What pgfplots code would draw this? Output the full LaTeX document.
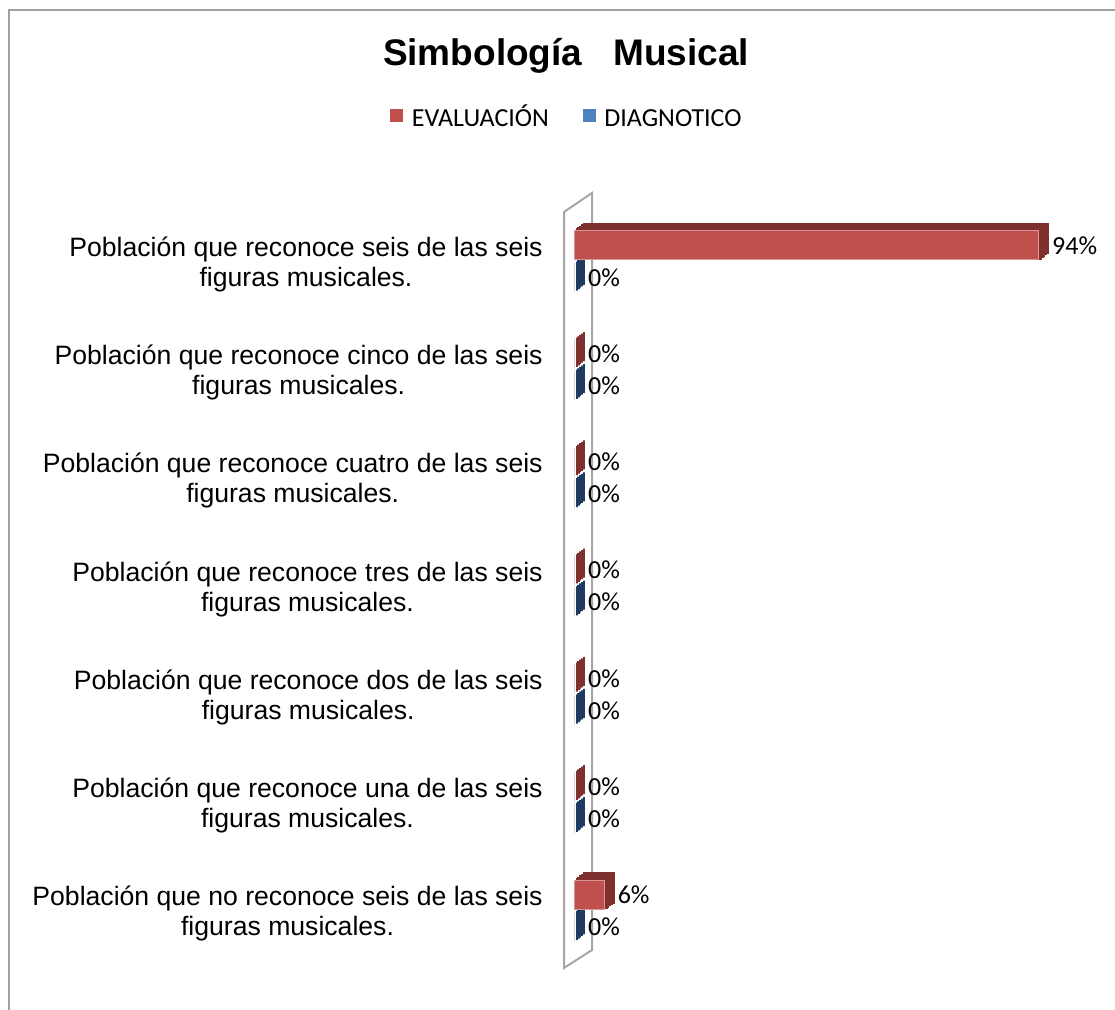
\documentclass[border=0pt]{standalone}
\usepackage{pgfplots}
\pgfplotsset{compat=1.18}
\usepackage{fontspec}
\setmainfont{Liberation Sans}
\newfontfamily\calibri{Carlito}
\definecolor{evred}{HTML}{C0504D}
\definecolor{evdark}{HTML}{7E302E}
\definecolor{dgblue}{HTML}{4F81BD}
\definecolor{dgdark}{HTML}{1F3A60}
\definecolor{framegray}{HTML}{A0A0A0}
% fake 3D depth: shifted copies of the bar behind its front face
\tikzset{
  depth/.style={
    preaction={fill=#1,draw=#1,line width=1.1pt,transform canvas={shift={(4.5pt,3.5pt)}}},
    preaction={fill=#1,draw=#1,line width=1.1pt,transform canvas={shift={(3.6pt,2.8pt)}}},
    preaction={fill=#1,draw=#1,line width=1.1pt,transform canvas={shift={(2.7pt,2.1pt)}}},
    preaction={fill=#1,draw=#1,line width=1.1pt,transform canvas={shift={(1.8pt,1.4pt)}}},
    preaction={fill=#1,draw=#1,line width=1.1pt,transform canvas={shift={(0.9pt,0.7pt)}}},
  }
}
\makeatletter
\tikzset{no preactions/.code={\let\tikz@preactions\pgfutil@empty}}
\makeatother
\begin{document}
\begin{tikzpicture}
\useasboundingbox (0pt,0pt) rectangle (557.5pt,505pt);
\draw[framegray, line width=1.2pt] (4.5pt,-2pt) -- (4.5pt,500pt) -- (560pt,500pt);
% back wall
\draw[gray!70, line width=1pt, fill=white] (282pt,399pt) -- (296pt,408.5pt) -- (296pt,30pt) -- (282pt,21pt) -- cycle;
\node[font=\bfseries\fontsize{18.5}{22}\selectfont] at (283pt,477pt) {Simbología\ \ \ Musical};
\begin{axis}[
  at={(287.5pt,22.45pt)}, anchor=south west,
  scale only axis, width=246.8pt, height=378.9pt,
  xbar, xmin=0, xmax=100, ymin=-0.5, ymax=6.5,
  bar width=14.5pt,
  axis line style={draw=none},
  xtick=\empty,
  ytick={0,...,6},
  yticklabels={
    {Población que no reconoce seis de las seis\\figuras musicales.},
    {Población que reconoce una de las seis\\figuras musicales.},
    {Población que reconoce dos de las seis\\figuras musicales.},
    {Población que reconoce tres de las seis\\figuras musicales.},
    {Población que reconoce cuatro de las seis\\figuras musicales.},
    {Población que reconoce cinco de las seis\\figuras musicales.},
    {Población que reconoce seis de las seis\\figuras musicales.}},
  major tick length=0pt,
  yticklabel style={align=center, inner sep=0pt, xshift=-16pt, yshift=-1.5pt,
    font=\fontsize{13.3}{15}\selectfont},
  /pgf/number format/assume math mode=true,
  nodes near coords={\pgfmathprintnumber{\pgfplotspointmeta}\%},
  every node near coord/.append style={font=\calibri\fontsize{13}{15}\selectfont,
    color=black, xshift=3pt},
  legend style={at={(-0.0142,1.119)}, anchor=center, draw=none,
    legend columns=-1, font=\calibri\fontsize{13}{15}\selectfont,
    /tikz/every even column/.append style={column sep=15pt}},
  reverse legend,
  clip=false,
]
\addplot[fill=dgblue, draw=dgblue!60!white, line width=0.5pt, depth=dgdark, bar shift=-8pt,
  legend image code/.code={\fill[no preactions, dgblue] (0pt,-2pt) rectangle (6pt,4pt);
    \path[no preactions, draw=none, fill=none] (6pt,1pt) -- (8.5pt,1pt);}]
  coordinates {(0,6) (0,5) (0,4) (0,3) (0,2) (0,1) (0,0)};
\addlegendentry{\vphantom{Ó}DIAGNOTICO}
\addplot[fill=evred, draw=evred!60!white, line width=0.5pt, depth=evdark, bar shift=8pt,
  legend image code/.code={\fill[no preactions, evred] (0pt,-2pt) rectangle (6pt,4pt);
    \path[no preactions, draw=none, fill=none] (6pt,1pt) -- (8.5pt,1pt);}]
  coordinates {(94,6) (0,5) (0,4) (0,3) (0,2) (0,1) (6,0)};
\addlegendentry{EVALUACIÓN}
\end{axis}
\end{tikzpicture}
\end{document}
